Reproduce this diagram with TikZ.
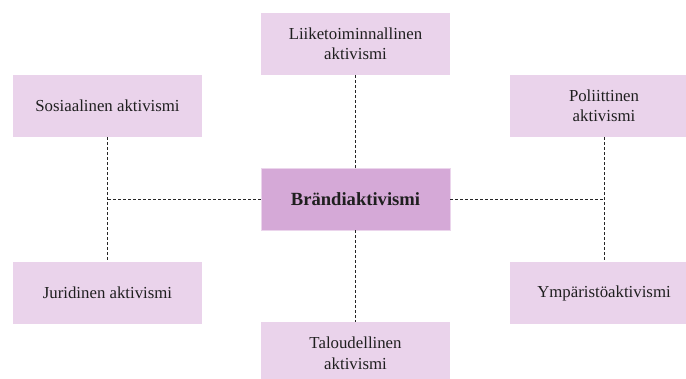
\documentclass[tikz,border=0pt]{standalone}
\usepackage{fontspec}
\setmainfont{Liberation Serif}
\definecolor{boxpink}{HTML}{EAD3EB}
\definecolor{mainpink}{HTML}{D5A9D7}
\definecolor{mainrim}{HTML}{EBD5EC}
\tikzset{
  aktbox/.style={rectangle,fill=boxpink,minimum width=189pt,minimum height=62pt,
    inner sep=0pt,align=center,text=black!88,font=\fontsize{16.8}{20.5}\selectfont},
  mainbox/.style={aktbox,fill=mainpink,draw=mainrim,line width=0.8pt,
    font=\fontsize{18.6}{22}\selectfont\bfseries},
  link/.style={draw=black!85,line width=0.8pt,dash pattern=on 3pt off 2pt}
}
\begin{document}
\begin{tikzpicture}[x=1pt,y=-1pt]
\useasboundingbox (0,0) rectangle (686,378);
\clip (0,0) rectangle (686,378);
\node[mainbox] (B) at (355.5,199) {Brändiaktivismi};
\node[aktbox] (L) at (355.5,44) {Liiketoiminnallinen\\aktivismi};
\node[aktbox] (T) at (355.5,353) {Taloudellinen\\aktivismi};
\node[aktbox] (S) at (107.5,106) {Sosiaalinen aktivismi};
\node[aktbox] (J) at (107.5,293) {Juridinen aktivismi};
\node[aktbox] (P) at (604,106) {Poliittinen\\aktivismi};
\node[aktbox] (Y) at (604,293) {Ympäristöaktivismi};
\path[link]
  (L.south) edge (B.north)
  (B.south) edge (T.north)
  (S.south) edge (J.north)
  (P.south) edge (Y.north)
  (B.west) edge (B.west -| S.south)
  (B.east) edge (B.east -| P.south)
;
\end{tikzpicture}
\end{document}
